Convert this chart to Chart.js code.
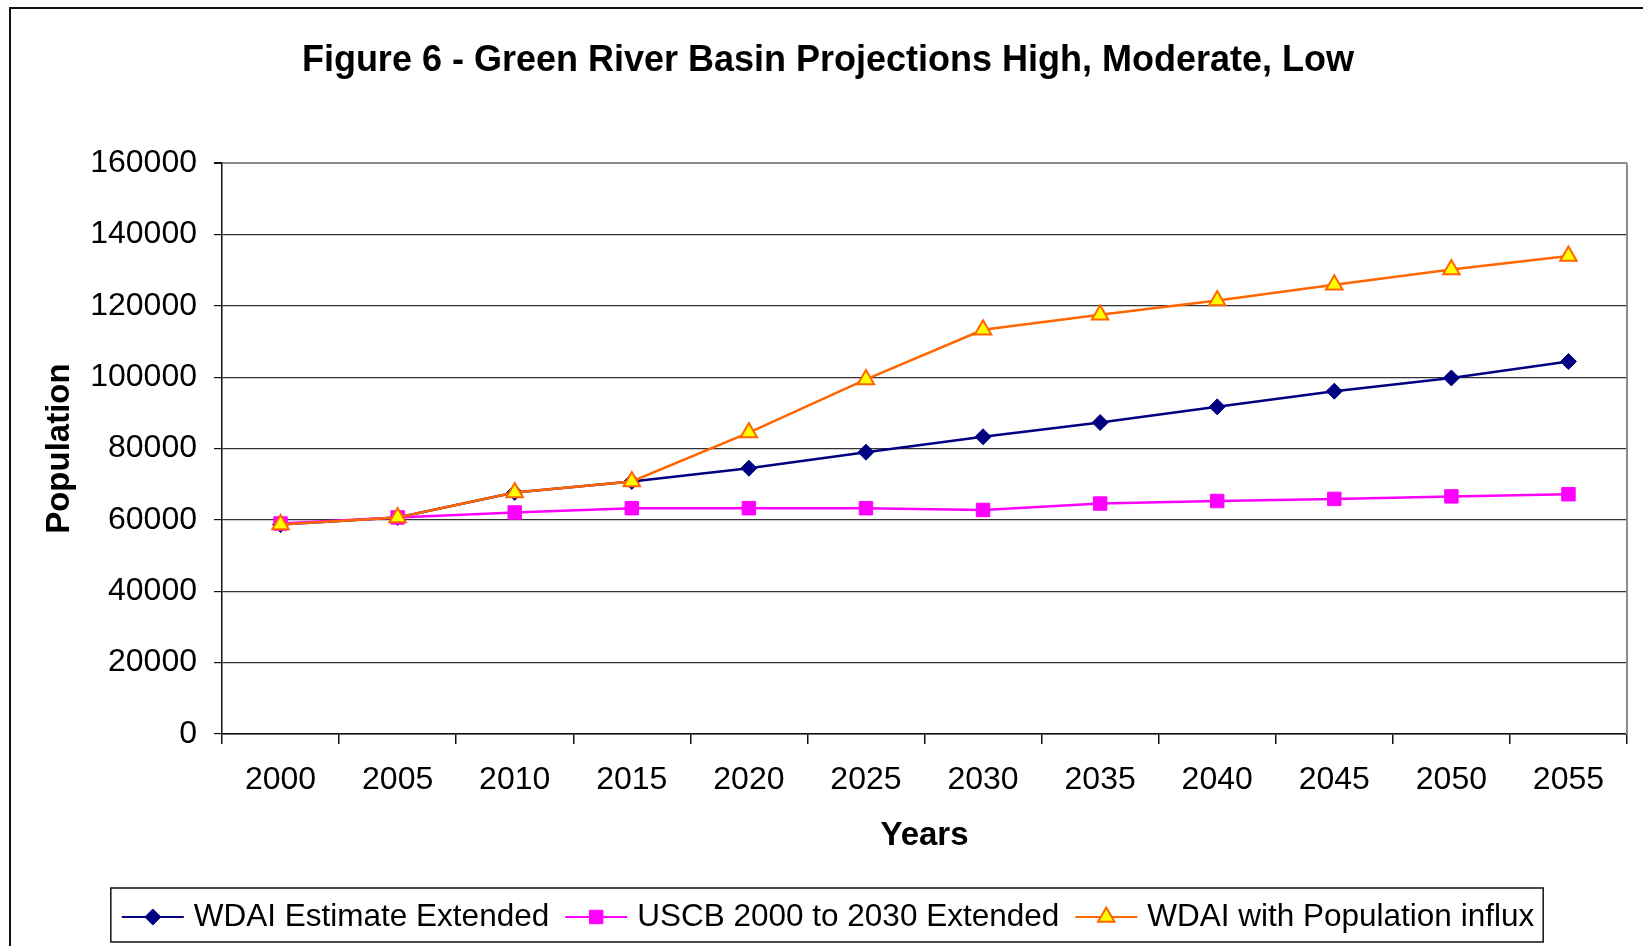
<!DOCTYPE html>
<html>
<head>
<meta charset="utf-8">
<title>Figure 6 - Green River Basin Projections</title>
<script src="https://cdn.jsdelivr.net/npm/chart.js@4.4.1/dist/chart.umd.min.js"></script>
<style>
  html, body { margin: 0; padding: 0; background: #fff; }
  #wrap { width: 1643px; height: 946px; }
</style>
</head>
<body>
<div id="wrap"><canvas id="chart" width="1643" height="946"></canvas></div>
<script>
// ── Data ────────────────────────────────
const years = ['2000', '2005', '2010', '2015', '2020', '2025', '2030', '2035', '2040', '2045', '2050', '2055'];
const wdaiEstimate = [58700, 60700, 67700, 70800, 74500, 79000, 83300, 87300, 91700, 96100, 99800, 104400];
const uscbExtended = [59000, 60700, 62100, 63300, 63300, 63300, 62800, 64600, 65300, 65900, 66600, 67200];
const wdaiInflux = [58700, 60700, 67700, 70800, 84500, 99400, 113300, 117500, 121500, 125900, 130200, 134000];
const yTicks = [0, 20000, 40000, 60000, 80000, 100000, 120000, 140000, 160000];

const seriesNames = ['WDAI Estimate Extended', 'USCB 2000 to 2030 Extended', 'WDAI with Population influx'];

const FONT = "'Liberation Sans', Arial, sans-serif";

// ── Frame, plot border and boxed legend ─────────────
const framePlugin = {
  id: 'frame',
  beforeDraw(chart) {
    const ctx = chart.ctx;
    ctx.save();
    ctx.fillStyle = '#fff';
    ctx.fillRect(0, 0, chart.width, chart.height);
    ctx.strokeStyle = '#111';
    ctx.lineWidth = 2;
    ctx.strokeRect(10, 8, chart.width + 20, chart.height + 20);
    ctx.restore();
  },
  beforeDatasetsDraw(chart) {
    const { ctx, chartArea: a } = chart;
    ctx.save();
    ctx.strokeStyle = '#8c8c8c';
    ctx.lineWidth = 2;
    ctx.beginPath();
    ctx.moveTo(a.right, a.top);
    ctx.lineTo(a.right, a.bottom);
    ctx.stroke();
    ctx.restore();
  },
  afterDraw(chart) {
    const ctx = chart.ctx;
    const sets = chart.data.datasets;
    ctx.save();
    ctx.font = '31.5px ' + FONT;
    ctx.textBaseline = 'middle';
    const lineLen = 62, gapAfterLine = 10, gapAfterText = 16, padL = 11, padR = 9;
    const widths = sets.map(d => ctx.measureText(d.label).width);
    const total = widths.reduce((s, w) => s + lineLen + gapAfterLine + w, 0) + gapAfterText * (sets.length - 1) + padL + padR;
    const boxLeft = 827 - total / 2;
    const boxTop = 888, boxH = 54;
    ctx.strokeStyle = '#111';
    ctx.lineWidth = 1.5;
    ctx.strokeRect(boxLeft, boxTop, total, boxH);
    const cy = boxTop + boxH / 2 + 2;
    let x = boxLeft + padL;
    sets.forEach((d, i) => {
      ctx.strokeStyle = d.borderColor;
      ctx.lineWidth = 2.2;
      ctx.beginPath();
      ctx.moveTo(x, cy);
      ctx.lineTo(x + lineLen, cy);
      ctx.stroke();
      ctx.fillStyle = d.pointBackgroundColor;
      ctx.strokeStyle = d.pointBorderColor;
      ctx.lineWidth = d.pointBorderWidth;
      Chart.helpers.drawPoint(ctx, {
        pointStyle: d.pointStyle, rotation: 0,
        radius: d.pointRadius, borderWidth: d.pointBorderWidth
      }, x + lineLen / 2, cy);
      x += lineLen + gapAfterLine;
      ctx.fillStyle = '#000';
      ctx.fillText(d.label, x, cy);
      x += widths[i] + gapAfterText;
    });
    ctx.restore();
  }
};

const ctx = document.getElementById('chart');

new Chart(ctx, {
  type: 'line',
  data: {
    labels: years,
    datasets: [
      {
        label: seriesNames[0],
        data: wdaiEstimate,
        borderColor: '#000080',
        borderWidth: 2.5,
        pointStyle: 'rectRot',
        pointRadius: 8,
        pointBackgroundColor: '#000080',
        pointBorderColor: '#000080',
        pointBorderWidth: 1,
        order: 2
      },
      {
        label: seriesNames[1],
        data: uscbExtended,
        borderColor: '#FF00FF',
        borderWidth: 2.5,
        pointStyle: 'rect',
        pointRadius: 9.5,
        pointBackgroundColor: '#FF00FF',
        pointBorderColor: '#FF00FF',
        pointBorderWidth: 1,
        order: 1
      },
      {
        label: seriesNames[2],
        data: wdaiInflux,
        borderColor: '#FF6600',
        borderWidth: 2.5,
        pointStyle: 'triangle',
        pointRadius: 9.5,
        pointBackgroundColor: '#FFFF00',
        pointBorderColor: '#FF6600',
        pointBorderWidth: 2,
        order: 0
      }
    ]
  },
  options: {
    responsive: false,
    devicePixelRatio: 1,
    animation: false,
    layout: { padding: { left: 29, right: 16, top: 0, bottom: 76 } },
    elements: { line: { tension: 0 } },
    plugins: {
      legend: { display: false },
      tooltip: { enabled: false },
      title: {
        display: true,
        text: 'Figure 6 - Green River Basin Projections High, Moderate, Low',
        color: '#000',
        font: { family: FONT, size: 36, weight: 'bold', lineHeight: 1.2 },
        padding: { top: 39, bottom: 81 }
      }
    },
    scales: {
      x: {
        offset: true,
        grid: {
          offset: true,
          drawOnChartArea: false,
          drawTicks: true,
          tickLength: 10,
          tickColor: '#111',
          lineWidth: 1.5
        },
        border: { color: '#111', width: 1.5 },
        ticks: {
          color: '#000',
          padding: 17,
          maxRotation: 0,
          font: { family: FONT, size: 32 }
        },
        title: {
          display: true,
          text: 'Years',
          color: '#000',
          font: { family: FONT, size: 33, weight: 'bold', lineHeight: 1.2 },
          padding: { top: 0, bottom: 14 }
        },
        afterFit(scale) { scale.height = 136; }
      },
      y: {
        min: 0,
        max: 160000,
        afterBuildTicks(scale) { scale.ticks = yTicks.map(v => ({ value: v })); },
        grid: {
          color: c => (c.tick && c.tick.value === 160000 ? '#8c8c8c' : '#333'),
          lineWidth: c => (c.tick && c.tick.value === 160000 ? 2 : 1.2),
          tickColor: '#111',
          tickLength: 8
        },
        border: { color: '#111', width: 1.5 },
        ticks: {
          color: '#000',
          padding: 17,
          font: { family: FONT, size: 32 },
          callback: v => String(v)
        },
        title: {
          display: true,
          text: 'Population',
          color: '#000',
          font: { family: FONT, size: 33, weight: 'bold', lineHeight: 1.2 },
          padding: { top: 11, bottom: 0 }
        },
        afterFit(scale) { scale.width = 193; }
      }
    }
  },
  plugins: [framePlugin]
});
</script>
</body>
</html>
